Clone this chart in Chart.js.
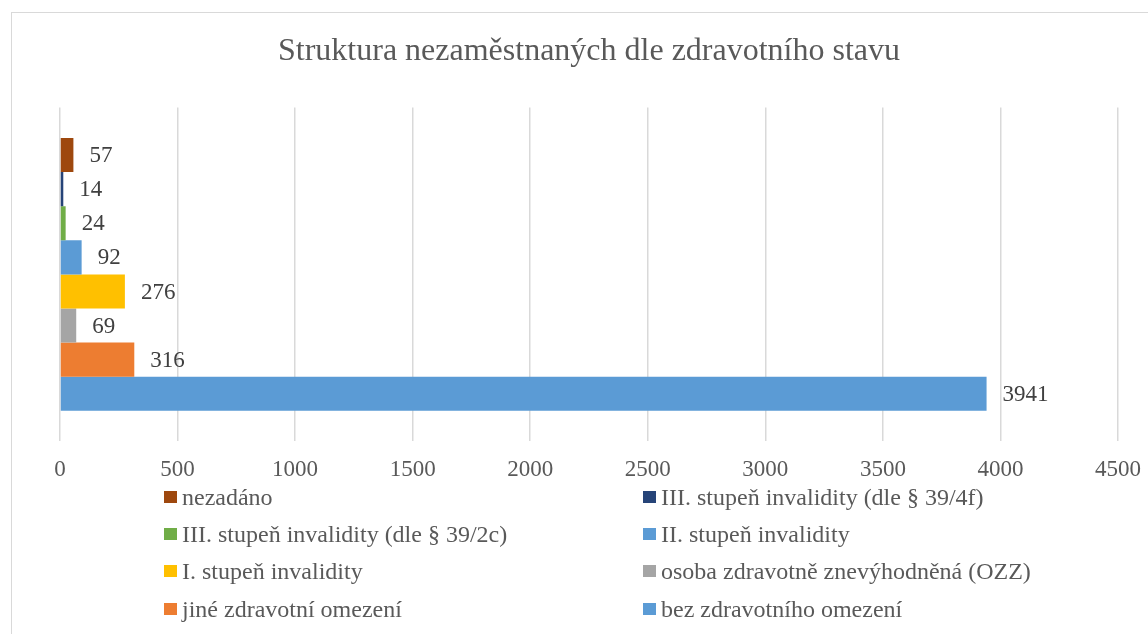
<!DOCTYPE html>
<html>
<head>
<meta charset="utf-8">
<script src="https://cdn.jsdelivr.net/npm/chart.js@4.4.0/dist/chart.umd.min.js"></script>
<style>
  html, body { margin: 0; padding: 0; background: #ffffff; overflow: hidden; }
  #wrap { position: relative; width: 1148px; height: 634px; }
  #frame { position: absolute; left: 11px; top: 12px; width: 1160px; height: 660px; border: 1.5px solid #d9d9d9; box-sizing: border-box; }
  canvas { position: absolute; left: 0; top: 0; }
  #legend { position: absolute; left: 0; top: 0; width: 1148px; height: 634px; pointer-events: none;
            font-family: "Liberation Serif", "Times New Roman", serif; font-size: 24px; color: #595959; }
  .li { position: absolute; white-space: nowrap; line-height: 28px; height: 28px; }
  .li .box { position: absolute; left: 0; top: 8px; width: 13px; height: 12px; }
  .li .txt { position: absolute; left: 18px; top: 0; }
</style>
</head>
<body>
<div id="wrap">
  <div id="frame"></div>
  <canvas id="c" width="1148" height="634"></canvas>
  <div id="legend"></div>
</div>
<script>
const chartTitle = "Struktura nezaměstnaných dle zdravotního stavu";
const seriesNames = [
  "nezadáno",
  "III. stupeň invalidity (dle § 39/4f)",
  "III. stupeň invalidity (dle § 39/2c)",
  "II. stupeň invalidity",
  "I. stupeň invalidity",
  "osoba zdravotně znevýhodněná (OZZ)",
  "jiné zdravotní omezení",
  "bez zdravotního omezení"
];
const seriesValues = [57, 14, 24, 92, 276, 69, 316, 3941];
const seriesColors = ["#9E480E", "#264478", "#70AD47", "#5B9BD5", "#FFC000", "#A5A5A5", "#ED7D31", "#5B9BD5"];
const xTicks = [0, 500, 1000, 1500, 2000, 2500, 3000, 3500, 4000, 4500];

const serif = "'Liberation Serif', 'Times New Roman', serif";

const valueLabels = {
  id: 'valueLabels',
  afterDatasetsDraw(chart) {
    const ctx = chart.ctx;
    ctx.save();
    ctx.font = "23px " + serif;
    ctx.fillStyle = "#404040";
    ctx.textAlign = "left";
    ctx.textBaseline = "middle";
    chart.data.datasets.forEach((ds, i) => {
      const meta = chart.getDatasetMeta(i);
      meta.data.forEach((bar, j) => {
        ctx.fillText(String(ds.data[j]), bar.x + 16, bar.y + 1);
      });
    });
    ctx.restore();
  }
};

const chart = new Chart(document.getElementById('c'), {
  type: 'bar',
  data: {
    labels: [""],
    datasets: seriesNames.map((name, i) => ({
      label: name,
      data: [seriesValues[i]],
      backgroundColor: seriesColors[i],
      borderWidth: 0
    }))
  },
  options: {
    indexAxis: 'y',
    responsive: false,
    animation: false,
    categoryPercentage: 0.817,
    barPercentage: 1.0,
    layout: { padding: { left: 60, right: 30, top: 0, bottom: 135 } },
    plugins: {
      legend: { display: false },
      tooltip: { enabled: false },
      title: {
        display: true,
        text: chartTitle,
        color: "#595959",
        font: { family: serif, size: 32, weight: 'normal', lineHeight: 1.2 },
        padding: { top: 32, bottom: 37 }
      }
    },
    scales: {
      x: {
        type: 'linear',
        min: 0,
        max: 4500,
        afterBuildTicks(scale) { scale.ticks = xTicks.map(v => ({ value: v })); },
        afterFit(scale) { scale.paddingLeft = 0; scale.paddingRight = 0; },
        grid: { color: "#d9d9d9", lineWidth: 1.5, drawTicks: false },
        border: { display: false },
        ticks: {
          color: "#595959",
          padding: 15,
          maxRotation: 0,
          autoSkip: false,
          font: { family: serif, size: 23, lineHeight: 1.2 },
          callback: (v) => String(v)
        }
      },
      y: {
        type: 'category',
        display: false
      }
    }
  },
  plugins: [valueLabels]
});

// HTML legend built from the chart's datasets
const legendEl = document.getElementById('legend');
const colX = [164, 643];
const rowY = [497, 534, 571, 609];
chart.data.datasets.forEach((ds, i) => {
  const item = document.createElement('div');
  item.className = 'li';
  item.style.left = colX[i % 2] + 'px';
  item.style.top = (rowY[Math.floor(i / 2)] - 14) + 'px';
  const box = document.createElement('span');
  box.className = 'box';
  box.style.background = ds.backgroundColor;
  const txt = document.createElement('span');
  txt.className = 'txt';
  txt.textContent = ds.label;
  item.appendChild(box);
  item.appendChild(txt);
  legendEl.appendChild(item);
});
</script>
</body>
</html>
